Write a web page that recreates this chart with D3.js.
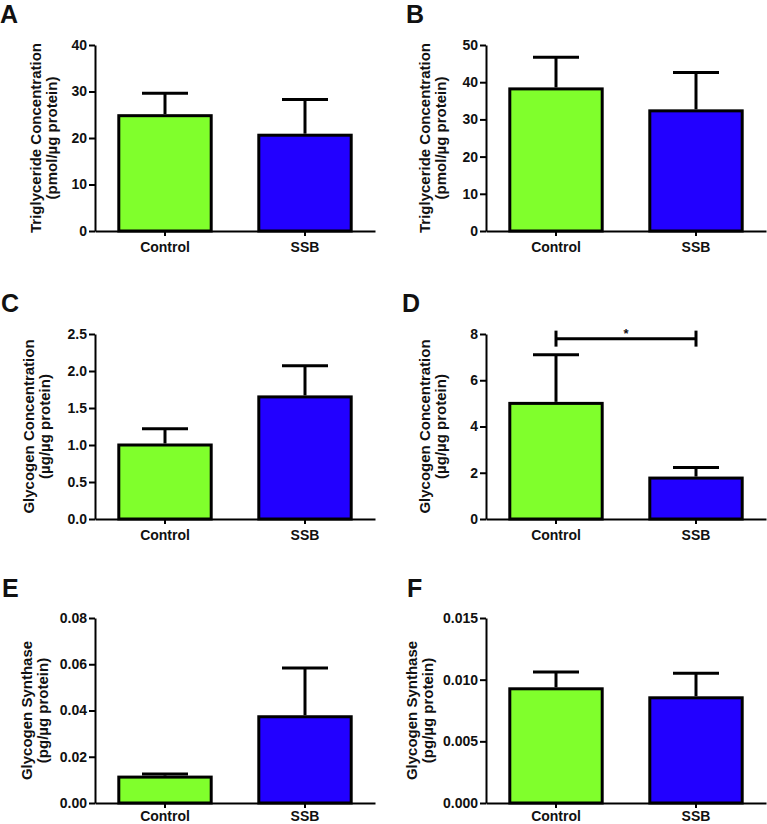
<!DOCTYPE html>
<html>
<head>
<meta charset="utf-8">
<script src="https://cdn.jsdelivr.net/npm/d3@7"></script>
<style>
  body { margin: 0; background: #fff; }
  svg { display: block; }
  text { font-family: "Liberation Sans", Arial, sans-serif; font-weight: bold; fill: #111; }
</style>
</head>
<body>
<div id="vis"></div>
<script>
// groups on the x axis
const groups = ["Control", "SSB"];
const letters = ["A", "B", "C", "D", "E", "F"];

// y axis titles (two lines each)
const titleLine1 = ["Triglyceride Concentration", "Triglyceride Concentration",
                    "Glycogen Concentration", "Glycogen Concentration",
                    "Glycogen Synthase", "Glycogen Synthase"];
const titleLine2 = ["(pmol/µg protein)", "(pmol/µg protein)",
                    "(µg/µg protein)", "(µg/µg protein)",
                    "(pg/µg protein)", "(pg/µg protein)"];

// means and error (upper bar only)
const meanA = [24.8, 20.6],       errA = [4.8, 7.7];
const meanB = [38.2, 32.3],       errB = [8.5, 10.3];
const meanC = [1.0, 1.65],        errC = [0.22, 0.42];
const meanD = [5.0, 1.77],        errD = [2.1, 0.46];
const meanE = [0.0112, 0.0373],   errE = [0.0013, 0.0211];
const meanF = [0.00926, 0.00853], errF = [0.00137, 0.00199];

// tick values
const ticksA = [0, 10, 20, 30, 40];
const ticksB = [0, 10, 20, 30, 40, 50];
const ticksC = [0, 0.5, 1.0, 1.5, 2.0, 2.5];
const ticksD = [0, 2, 4, 6, 8];
const ticksE = [0, 0.02, 0.04, 0.06, 0.08];
const ticksF = [0, 0.005, 0.010, 0.015];
const tickFormats = ["d", "d", ".1f", "d", ".2f", ".3f"];

// significance bracket in panel D: from, to, height (data units), mark
const sigD = ["Control", "SSB", 7.8, "*"];

const means = [meanA, meanB, meanC, meanD, meanE, meanF];
const errs = [errA, errB, errC, errD, errE, errF];
const ticks = [ticksA, ticksB, ticksC, ticksD, ticksE, ticksF];

const COLORS = ["#80ff2c", "#2200ff"];
const WIDTH = 767, HEIGHT = 824;
const AXIS_W = 280;

// panel placement: axis x, plot top/bottom, letter pos, title baselines, x label padding
const LAYOUT = [
  {ax: 95,  top: 45,  bottom: 231, lx: 0,   ly: 23, t1: 41,  t2: 57,  pad: 6},
  {ax: 486, top: 45,  bottom: 231, lx: 406, ly: 23, t1: 430, t2: 446, pad: 6},
  {ax: 95,  top: 334, bottom: 519, lx: 1,   ly: 312, t1: 34,  t2: 50,  pad: 6},
  {ax: 486, top: 334, bottom: 519, lx: 402, ly: 312, t1: 430, t2: 446, pad: 6},
  {ax: 95,  top: 618, bottom: 803, lx: 2,   ly: 597, t1: 32,  t2: 48,  pad: 3},
  {ax: 486, top: 618, bottom: 803, lx: 407, ly: 597, t1: 417, t2: 433, pad: 3}
];

const svg = d3.select("#vis")
  .append("svg")
    .attr("width", WIDTH)
    .attr("height", HEIGHT);

LAYOUT.forEach((L, i) => {
  const g = svg.append("g");
  const data = groups.map((name, j) => ({name: name, mean: means[i][j], err: errs[i][j], color: COLORS[j]}));

  const X_SCALE = d3.scaleBand()
      .domain(groups)
      .range([L.ax, L.ax + AXIS_W])
      .paddingInner(0.34)
      .paddingOuter(0.17);

  const Y_SCALE = d3.scaleLinear()
      .domain([0, d3.max(ticks[i])])
      .range([L.bottom, L.top]);

  // panel letter
  g.append("text")
    .attr("x", L.lx)
    .attr("y", L.ly)
    .attr("font-size", "25px")
    .text(letters[i]);

  // y title
  const cy = (L.top + L.bottom) / 2;
  g.append("text")
    .attr("transform", "translate(" + L.t1 + "," + cy + ") rotate(-90)")
    .attr("text-anchor", "middle")
    .attr("font-size", "15px")
    .text(titleLine1[i]);
  g.append("text")
    .attr("transform", "translate(" + L.t2 + "," + cy + ") rotate(-90)")
    .attr("text-anchor", "middle")
    .attr("font-size", "15px")
    .text(titleLine2[i]);

  // bars
  g.selectAll(".bar")
    .data(data)
    .enter()
    .append("rect")
      .attr("class", "bar")
      .attr("x", (d) => X_SCALE(d.name))
      .attr("y", (d) => Y_SCALE(d.mean))
      .attr("width", X_SCALE.bandwidth())
      .attr("height", (d) => L.bottom - Y_SCALE(d.mean))
      .attr("fill", (d) => d.color)
      .attr("stroke", "#000")
      .attr("stroke-width", 3);

  // error bars (upper half)
  const cx = (d) => X_SCALE(d.name) + X_SCALE.bandwidth() / 2;
  g.selectAll(".errv")
    .data(data)
    .enter()
    .append("line")
      .attr("x1", cx).attr("x2", cx)
      .attr("y1", (d) => Y_SCALE(d.mean) - 1.5)
      .attr("y2", (d) => Y_SCALE(d.mean + d.err))
      .attr("stroke", "#000")
      .attr("stroke-width", 3);
  g.selectAll(".errc")
    .data(data)
    .enter()
    .append("line")
      .attr("x1", (d) => cx(d) - 23).attr("x2", (d) => cx(d) + 23)
      .attr("y1", (d) => Y_SCALE(d.mean + d.err))
      .attr("y2", (d) => Y_SCALE(d.mean + d.err))
      .attr("stroke", "#000")
      .attr("stroke-width", 3);

  // axes
  const yAxis = g.append("g")
    .attr("transform", "translate(" + L.ax + ",0)")
    .call(d3.axisLeft(Y_SCALE)
      .tickValues(ticks[i])
      .tickFormat(d3.format(tickFormats[i]))
      .tickSize(6)
      .tickSizeOuter(0)
      .tickPadding(2));

  const xAxis = g.append("g")
    .attr("transform", "translate(0," + L.bottom + ")")
    .call(d3.axisBottom(X_SCALE)
      .tickSize(5)
      .tickSizeOuter(0)
      .tickPadding(L.pad));

  [yAxis, xAxis].forEach((a) => {
    a.attr("font-family", null).attr("font-size", null);
    a.select(".domain").attr("stroke", "#000").attr("stroke-width", 2);
    a.selectAll(".tick line").attr("stroke", "#000").attr("stroke-width", 2);
    a.selectAll(".tick text").attr("font-size", "14px").attr("fill", "#111");
  });

  // significance bracket
  if (letters[i] === "D") {
    const x1 = X_SCALE(sigD[0]) + X_SCALE.bandwidth() / 2;
    const x2 = X_SCALE(sigD[1]) + X_SCALE.bandwidth() / 2;
    const yb = Y_SCALE(sigD[2]);
    g.append("line")
      .attr("x1", x1).attr("x2", x2).attr("y1", yb).attr("y2", yb)
      .attr("stroke", "#000").attr("stroke-width", 3);
    [x1, x2].forEach((xx) => {
      g.append("line")
        .attr("x1", xx).attr("x2", xx).attr("y1", yb - 8).attr("y2", yb + 8)
        .attr("stroke", "#000").attr("stroke-width", 3);
    });
    g.append("text")
      .attr("x", (x1 + x2) / 2)
      .attr("y", yb - 1)
      .attr("text-anchor", "middle")
      .attr("font-size", "13px")
      .text(sigD[3]);
  }
});
</script>
</body>
</html>
